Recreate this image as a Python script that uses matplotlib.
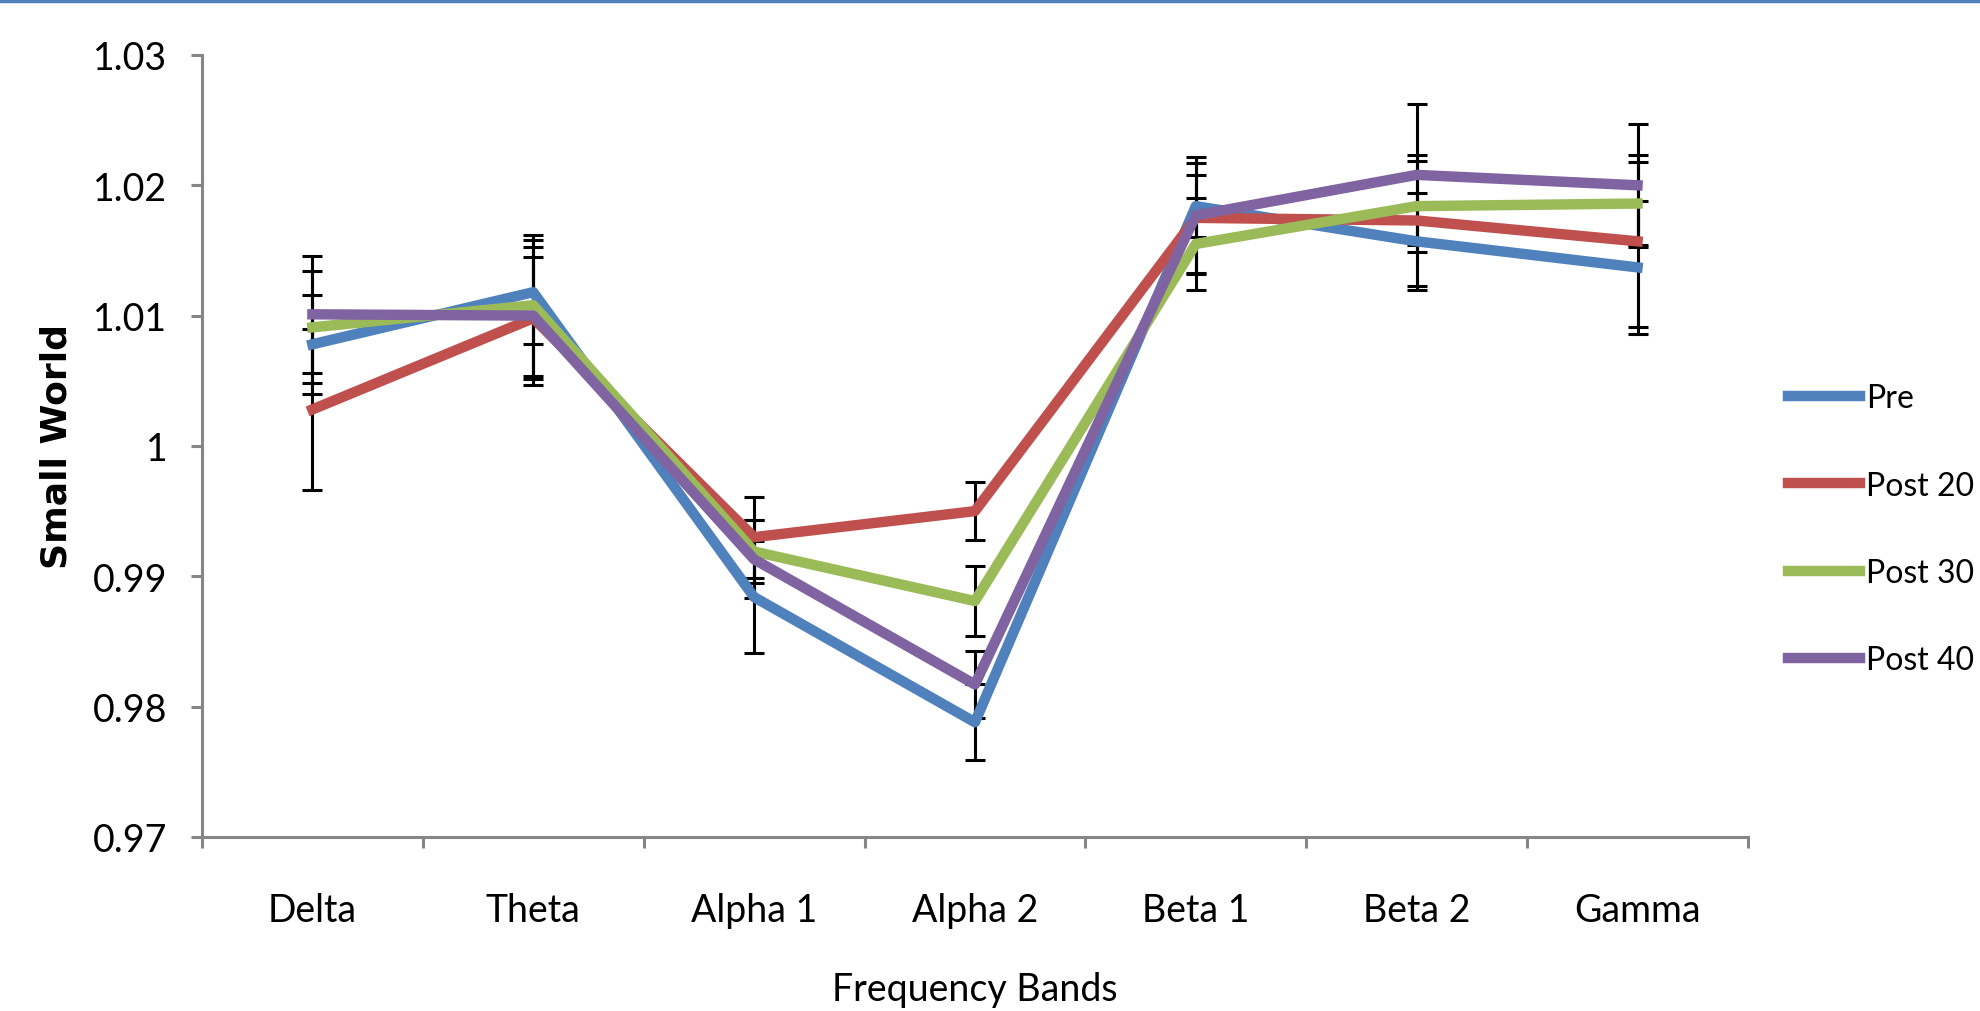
import numpy as np
import matplotlib.pyplot as plt
from matplotlib.lines import Line2D

categories = ['Delta', 'Theta', 'Alpha 1', 'Alpha 2', 'Beta 1', 'Beta 2', 'Gamma']
labels = ['Pre', 'Post 20', 'Post 30', 'Post 40']
pre = [1.0078, 1.0118, 0.9884, 0.9788, 1.0184, 1.0157, 1.0137]
post20 = [1.0028, 1.0098, 0.9930, 0.9950, 1.0175, 1.0173, 1.0157]
post30 = [1.0091, 1.0108, 0.9919, 0.9881, 1.0155, 1.0184, 1.0186]
post40 = [1.0101, 1.0100, 0.9913, 0.9817, 1.0177, 1.0208, 1.0200]
pre_err = [0.0038, 0.0040, 0.0043, 0.0029, 0.0024, 0.0037, 0.0051]
post20_err = [0.0062, 0.0047, 0.0031, 0.0022, 0.0042, 0.0050, 0.0066]
post30_err = [0.0043, 0.0054, 0.0024, 0.0027, 0.0035, 0.0035, 0.0032]
post40_err = [0.0045, 0.0053, 0.0030, 0.0026, 0.0045, 0.0054, 0.0047]
colors = ['#4f81bd', '#c0504d', '#9bbb59', '#8064a2']

plt.rcParams['font.family'] = ['Lato', 'DejaVu Sans']

fig = plt.figure(figsize=(19.8, 10.12), dpi=100)
ax = fig.add_axes([0.102, 0.172, 0.7808, 0.7727])

x = np.arange(len(categories))
series = [pre, post20, post30, post40]
errs = [pre_err, post20_err, post30_err, post40_err]

# error bars sit under the lines, like in the original
for s, e in zip(series, errs):
    ax.errorbar(x, s, yerr=e, fmt='none', ecolor='black', elinewidth=2.2,
                capsize=7, capthick=2.2, zorder=2)
for s, c, lab in zip(series, colors, labels):
    ax.plot(x, s, color=c, lw=7.5, label=lab, zorder=3)

ax.set_xlim(-0.5, len(categories) - 0.5)
ax.set_ylim(0.97, 1.03)
ax.set_yticks([0.97, 0.98, 0.99, 1.0, 1.01, 1.02, 1.03])
ax.set_yticklabels(['0.97', '0.98', '0.99', '1', '1.01', '1.02', '1.03'])
ax.set_xticks(x)
ax.set_xticklabels(categories)
ax.set_xticks(np.arange(-0.5, len(categories), 1), minor=True)

for side in ['top', 'right']:
    ax.spines[side].set_visible(False)
for side in ['left', 'bottom']:
    ax.spines[side].set_color('#868686')
    ax.spines[side].set_linewidth(2.2)

ax.tick_params(axis='y', direction='out', length=8, width=2.2, color='#868686',
               labelsize=27, pad=17)
ax.tick_params(axis='x', which='major', length=0, labelsize=27, pad=40)
ax.tick_params(axis='x', which='minor', direction='out', length=8, width=2.2,
               color='#868686')

ax.set_ylabel('Small World', family='DejaVu Sans', fontweight='bold', fontsize=26)
ax.yaxis.set_label_coords(-0.083, 0.5)
ax.set_xlabel('Frequency Bands', fontsize=27, va='top')
ax.xaxis.set_label_coords(0.5, -0.172)

ax.legend(loc='upper left', bbox_to_anchor=(1788 / 1980, 1 - 384 / 1012),
          bbox_transform=fig.transFigure, frameon=False, fontsize=23,
          handlelength=2.25, handletextpad=0.2, labelspacing=1.8,
          borderpad=0, borderaxespad=0)

fig.add_artist(Line2D([0, 1], [1 - 1.5 / 1012, 1 - 1.5 / 1012],
                      transform=fig.transFigure, color='#4f81bd', lw=2.5))

fig.savefig('out.png', dpi=100, facecolor='white')
